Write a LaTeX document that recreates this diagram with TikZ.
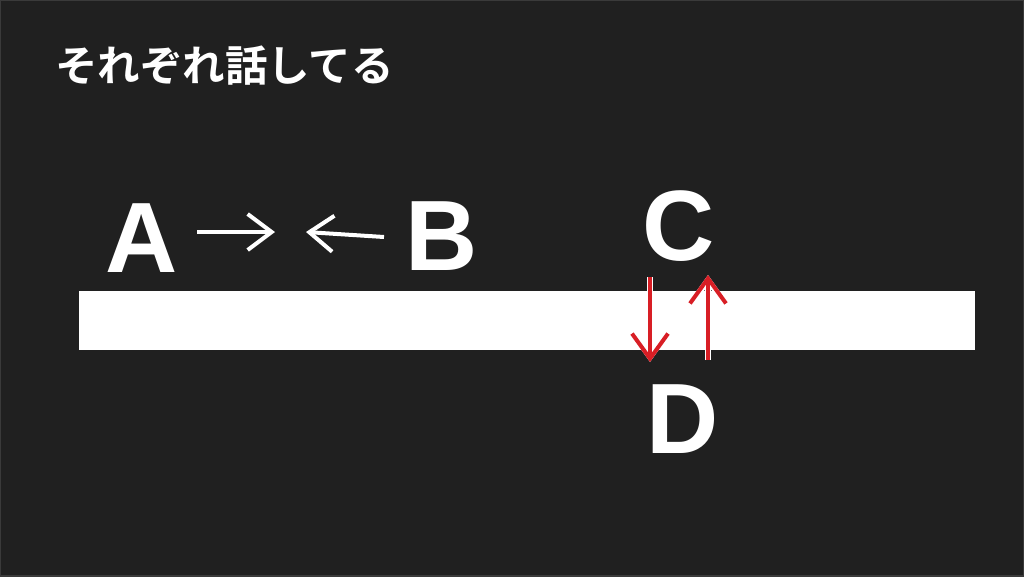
\documentclass[tikz,border=0pt]{standalone}
\usepackage{fontspec}
\setmainfont{Liberation Sans}
\newfontfamily\jpfont{Noto Sans CJK JP}[BoldFont={* Bold}]
\usetikzlibrary{arrows.meta}
\definecolor{bg}{HTML}{202020}
\definecolor{edgegray}{HTML}{3A3A3A}
\definecolor{arrred}{HTML}{D81E25}
\tikzset{
  letter/.style={text=white, inner sep=0pt, anchor=base west, font=\fontsize{100}{100}\selectfont\bfseries},
  whitearrow/.style={draw=white, line width=4pt, -{Straight Barb[length=24pt,width=36pt,line width=4pt]}},
  redunder/.style={draw=white, line width=6pt, -{Straight Barb[length=25pt,width=36pt,line width=6pt]}},
  redarrow/.style={draw=arrred, line width=4pt, -{Straight Barb[length=25pt,width=36pt,line width=4pt]}},
}
\begin{document}
\begin{tikzpicture}[x=1pt,y=-1pt]
\useasboundingbox (0,0) rectangle (1024,576);
\fill[bg] (0,0) rectangle (1024,576);
\draw[edgegray, line width=2pt] (0,0) rectangle (1024,576);
% title
\node[text=white, inner sep=0pt, anchor=west, font=\jpfont\bfseries\fontsize{42.5}{42.5}\selectfont] (title) at (55,66) {それぞれ話してる};
% wall
\node[fill=white, draw=none, inner sep=0pt, minimum width=896pt, minimum height=59pt, anchor=north west] (wall) at (79,291) {};
% letters
\node[letter] (A) at (105,272) {A};
\node[letter] (B) at (405,270) {B};
\node[letter] (C) at (642,260) {C};
\node[letter] (D) at (646,453) {D};
% arrows between A and B
\coordinate (a1) at (197,232);
\coordinate (a2) at (275,232);
\coordinate (b1) at (384,237);
\coordinate (b2) at (306,232);
\draw[whitearrow] (a1) -- (a2);
\draw[whitearrow] (b1) -- (b2);
% red arrows through the wall
\coordinate (c1) at (650,277);
\coordinate (c2) at (650,362);
\coordinate (d1) at (708,360);
\coordinate (d2) at (708,275);
\draw[redunder] (c1) -- (c2);
\draw[redunder] (d1) -- (d2);
\draw[redarrow] (c1) -- (c2);
\draw[redarrow] (d1) -- (d2);
\end{tikzpicture}
\end{document}
